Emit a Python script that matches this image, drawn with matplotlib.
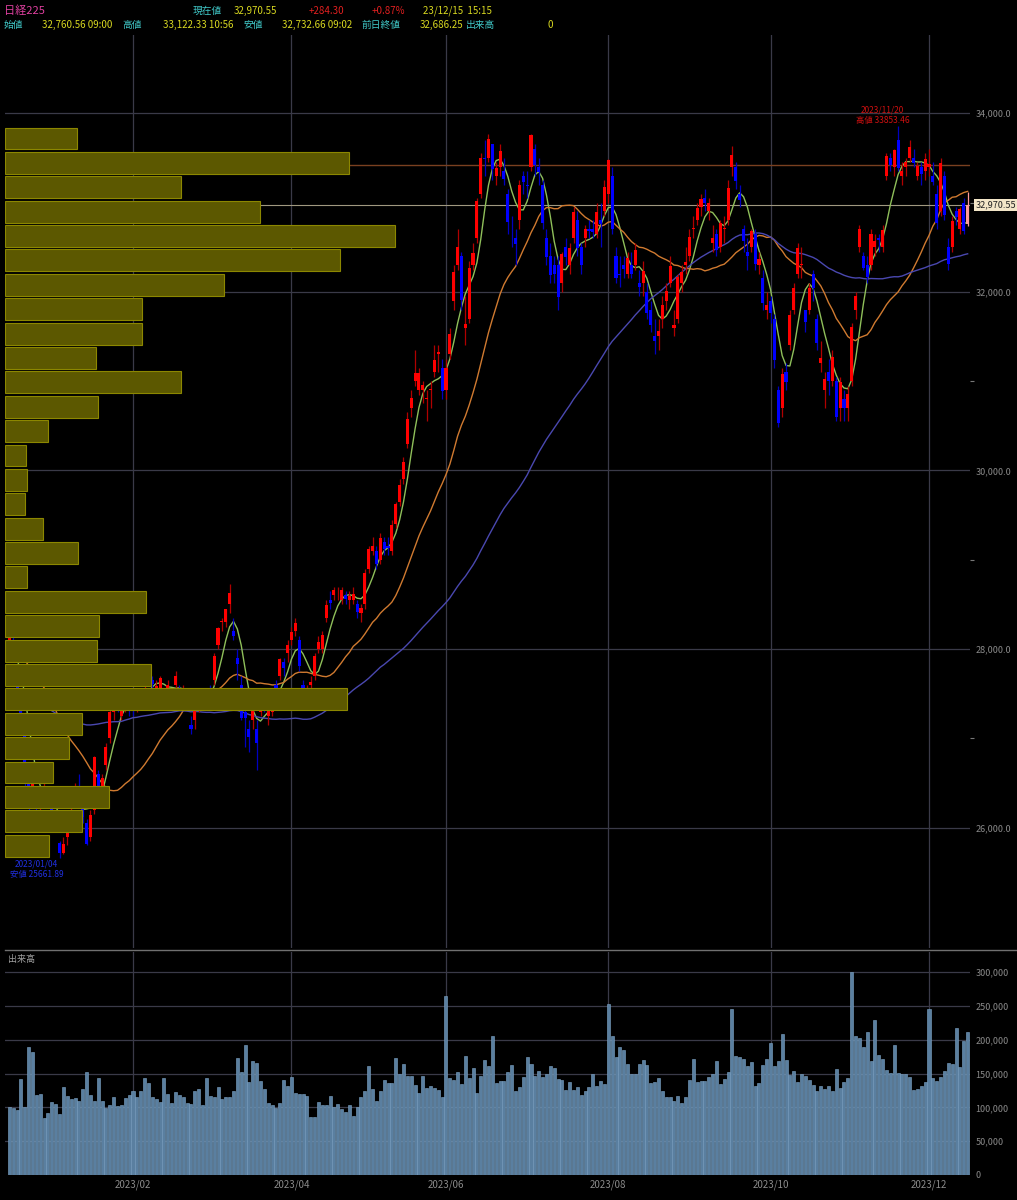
import numpy as np
import pandas as pd
import matplotlib
matplotlib.use("Agg")
import matplotlib.pyplot as plt

plt.rcParams['font.family'] = ['Noto Sans CJK JP', 'DejaVu Sans']

# ---------------- data ----------------
start = "2022-12-14"
end = "2023-12-15"
holidays = ["2023-01-02", "2023-01-03", "2023-01-09", "2023-02-23", "2023-03-21",
            "2023-05-03", "2023-05-04", "2023-05-05", "2023-07-17", "2023-08-11",
            "2023-09-18", "2023-10-09", "2023-11-03", "2023-11-23"]

# closes before the visible range (late Aug - Dec 13 2022), used only to warm up moving averages
history_closes = [28450,28640,28090,28370,28280,28480,28090,28060,28420,28290,28070,27820,27660,
 27880,27570,27310,27150,26430,26570,26170,26420,25940,25930,26220,26990,27120,27310,27116,
 26400,26397,26237,27090,26775,27156,27257,27006,26890,26974,27250,27431,27299,27105,26891,
 27587,27678,27663,27199,27527,27872,27716,27446,28263,27963,27990,28028,27930,27899,27944,
 28115,28383,28283,28162,28027,28226,27777,27820,27885,27686,27574,27965,27901,27842,27954]

opens = [27980,28060,27700,27350,27200,26650,26300,26400,26300,26350,26400,26250,26000,
 25830,25720,25900,26000,26300,26450,26300,26050,25900,26200,26600,26450,26700,27000,27300,27450,27250,27400,27350,
 27350,27400,27450,27600,27700,27650,27550,27500,27400,27550,27450,27600,27550,27500,27500,27150,27200,27400,27450,
 27450,27550,27650,28050,28300,28300,28500,28200,27900,27600,27300,27100,27200,27100,27300,27500,27250,27300,27600,27700,27850,27950,
 28100,28200,28100,27600,27500,27600,27700,28000,28000,28350,28550,28600,28600,28550,28600,28550,28550,28500,28400,28500,
 28900,29100,29100,29000,29200,29150,29100,29400,29650,29900,30300,30700,31000,30900,30900,30800,30900,31100,31300,31150,
 30900,31300,31900,32300,32400,31600,31700,32300,32600,33100,33500,33500,33650,33300,33400,33350,33100,32700,32600,32800,33300,33200,
 33400,33600,33400,33200,32600,32400,32300,32300,32100,32500,32300,32600,32800,32500,32600,32700,32700,32650,32800,32900,
 33100,33300,32400,32200,32300,32200,32300,32300,32100,32100,32000,31800,31500,31500,31700,31900,32100,31600,31700,32100,32300,32400,
 32700,32800,32950,33050,32900,32550,32650,32500,32700,32800,33400,33400,33100,32700,32450,32500,32650,32300,32150,31800,
 31900,31700,30900,30700,31100,31400,31800,32200,32300,31800,31800,32200,31700,31200,30900,31100,31000,31000,30700,30800,30700,
 31000,31800,32500,32400,32300,32300,32500,32600,32500,33300,33500,33400,33700,33300,33400,33500,33500,33300,33400,33350,
 33400,33300,33100,32900,33300,32500,32500,32900,32700,33000,32760.56]
highs = [28200,28150,27750,27400,27250,26700,26600,26450,26450,26500,26450,26300,26150,
 25850,25900,26000,26250,26500,26600,26350,26100,26200,26800,26650,26600,26950,27350,27450,27500,27400,27500,27400,
 27450,27500,27550,27750,27800,27700,27650,27700,27500,27650,27550,27750,27600,27600,27550,27250,27500,27500,27500,
 27550,27600,27950,28250,28350,28450,28730,28350,28000,27700,27400,27200,27400,27200,27500,27550,27450,27550,27650,27900,27900,28100,
 28250,28350,28150,27650,27600,27700,27950,28150,28200,28550,28650,28700,28700,28700,28650,28650,28700,28550,28500,28900,
 29150,29250,29150,29300,29250,29250,29450,29650,29900,30150,30650,30900,31350,31150,31000,30900,31000,31400,31400,31250,
 31250,31600,32300,32700,32450,31950,32350,32550,33050,33550,33700,33770,33650,33450,33650,33500,33150,32850,32700,33250,33350,33350,
 33770,33650,33500,33250,32700,32550,32400,32400,32450,32600,32550,32950,32900,32550,32750,32800,32800,33000,33000,33250,
 33490,33400,32500,32400,32400,32450,32450,32550,32250,32350,32100,31900,31700,31700,31950,32100,32400,31800,32200,32300,32500,32700,
 32850,33000,33100,33150,33050,32750,32700,32800,32850,33250,33630,33450,33200,32750,32600,32700,32700,32450,32250,32000,
 31950,31750,30950,31150,31200,31800,32100,32550,32500,31800,32100,32250,31750,31450,31100,31250,31350,31050,31050,30900,30950,
 31650,32000,32750,32450,32400,32700,32650,32650,32750,33550,33550,33600,33853.46,33450,33500,33700,33600,33450,33450,33550,
 33600,33450,33200,33500,33350,32600,32850,32950,32950,33050,33122.33]
lows = [27900,27950,27450,27150,26400,26150,26250,26200,26200,26300,26300,26050,25950,
 25661.89,25700,25800,25950,26250,26350,26050,25800,25850,26150,26350,26400,26650,26950,27200,27300,27200,27300,27250,
 27250,27300,27400,27550,27600,27550,27500,27450,27350,27450,27400,27550,27450,27450,27400,27050,27100,27300,27350,
 27400,27400,27600,28000,28200,28250,28400,28100,27650,27200,26900,26850,27100,26650,27250,27300,27150,27250,27450,27650,27700,27850,
 28050,28150,27750,27400,27400,27500,27650,27950,27950,28300,28450,28550,28550,28500,28500,28450,28500,28350,28300,28450,
 28850,29050,28900,28950,29050,29050,29050,29350,29600,29850,30250,30600,30950,30850,30750,30550,30700,31050,31100,30800,
 30800,31250,31800,32250,31800,31400,31650,32250,32550,33050,33300,33450,33250,33200,33300,33200,32650,32500,32300,32700,33100,33050,
 33350,33300,33200,32700,32300,32100,32100,31800,32000,32300,32200,32550,32400,32200,32500,32600,32600,32600,32500,32850,
 33000,32650,32100,32050,32150,32150,32150,32250,31950,31950,31700,31550,31300,31350,31600,31800,32050,31500,31650,32000,32200,32350,
 32600,32750,32850,32900,32800,32450,32400,32450,32550,32750,33300,33150,32950,32450,32250,32450,32250,32200,31800,31700,
 31650,31150,30490,30600,30900,31350,31750,32150,32150,31550,31750,31900,31350,31100,30700,30850,30950,30550,30550,30550,30550,
 30950,31700,32450,32250,32100,32250,32400,32450,32450,33250,33350,33300,33350,33200,33300,33450,33400,33250,33200,33250,
 33300,33200,32700,32850,32800,32250,32450,32750,32650,32650,32732.66]
closes = [28156,28051,27527,27237,26568,26387,26507,26235,26405,26447,26340,26093,26094,
 25717,25820,25974,26175,26446,26449,26119,25822,26138,26791,26405,26553,26906,27299,27395,27362,27382,27433,27327,
 27346,27402,27509,27693,27685,27606,27584,27670,27427,27602,27501,27696,27513,27531,27473,27104,27453,27423,27445,
 27516,27498,27927,28237,28309,28444,28623,28143,27832,27222,27229,27010,27333,26945,27466,27419,27385,27476,27518,27883,27782,28041,
 28188,28287,27813,27472,27518,27633,27923,28082,28156,28493,28514,28658,28606,28657,28564,28593,28620,28416,28457,28856,
 29123,29157,28949,29242,29122,29126,29388,29626,29842,30093,30573,30808,31086,31086,30957,30801,30916,31233,31328,30887,
 31148,31524,32217,32506,31913,31641,32265,32434,33018,33502,33485,33706,33370,33388,33575,33264,32781,32698,32538,33193,33234,33189,
 33753,33422,33338,32773,32388,32189,32203,31943,32419,32391,32493,32896,32490,32304,32700,32682,32668,32891,32759,33172,
 33476,32707,32159,32192,32254,32377,32204,32473,32059,32238,31766,31626,31450,31566,31856,32010,32287,31624,32169,32226,32333,32619,
 32710,32939,33036,32991,32991,32606,32467,32776,32706,33168,33533,33242,33023,32571,32402,32678,32315,32371,31872,31857,
 31759,31237,30526,31075,30994,31746,32040,32494,32315,31659,32040,32042,31430,31259,31019,30999,31269,30601,30991,30696,30858,
 31601,31949,32708,32271,32166,32646,32568,32585,32695,33519,33424,33585,33388,33354,33451,33625,33447,33408,33321,33486,
 33431,33231,32775,33445,32858,32307,32791,32843,32926,32686,32970.55]
volumes_k = [100,99,96,142,101,189,182,118,120,85,92,108,105,
 91,130,117,112,114,109,127,152,118,110,144,109,99,103,115,102,103,114,118,
 125,116,124,143,136,116,113,108,143,120,106,123,118,115,106,105,124,127,104,
 144,117,115,130,112,116,115,124,173,152,193,137,168,166,139,128,107,104,99,107,140,131,
 145,121,120,120,117,86,86,108,103,103,117,100,105,98,93,104,87,101,116,125,
 162,127,109,124,140,136,136,173,150,165,147,147,133,122,146,129,131,129,126,115,
 265,143,140,153,134,176,143,158,122,147,170,162,206,136,139,139,152,163,124,130,145,174,
 165,147,154,145,150,161,158,142,140,126,138,126,130,118,125,130,150,132,139,135,
 253,206,174,189,185,164,150,150,165,170,163,136,138,144,125,115,115,110,117,107,115,141,
 171,137,139,139,145,150,169,134,142,152,245,176,175,172,162,167,131,136,163,172,
 195,161,168,209,170,148,154,138,150,146,140,133,124,132,128,132,124,157,129,138,143,
 300,206,203,190,211,168,230,177,172,155,151,193,151,150,150,145,126,128,131,138,
 245,143,139,145,154,166,165,218,160,198,212]

# price-volume profile (30 bins between lowest low and highest high), bottom bin first
profile = [44,77,104,48,64,77,342,146,92,94,141,22,73,38,20,22,21,43,93,176,91,137,137,219,335,390,255,176,344,72]

ref_line_price = 33416
current_price = 32970.55
ma_windows = [5, 25, 75]
month_ticks = ["2023/02", "2023/04", "2023/06", "2023/08", "2023/10", "2023/12"]
price_ticks = [26000, 28000, 30000, 32000, 34000]
vol_ticks = [0, 50000, 100000, 150000, 200000, 250000, 300000]

# ---------------- prep ----------------
dates = pd.bdate_range(start, end)
dates = dates[~dates.isin(pd.to_datetime(holidays))]
n = min(len(dates), len(closes))
dates = dates[:n]
o = np.array(opens[:n], float); h = np.array(highs[:n], float)
l = np.array(lows[:n], float); c = np.array(closes[:n], float)
v = np.array(volumes_k[:n], float) * 1000
x = np.arange(n)

def first_idx(ym):
    y, m = ym.split("/")
    return int(np.argmax((dates.year == int(y)) & (dates.month == int(m))))

month_x = [first_idx(m) for m in month_ticks]
i0, i1 = month_x[0], month_x[-1]
s = (929 - 133) / (i1 - i0)
xl = i0 + (5 - 133) / s
xr = i0 + (970 - 133) / s

W, H = 1017, 1200
fig = plt.figure(figsize=(W / 100, H / 100), dpi=100, facecolor="black")
ax = fig.add_axes([5 / W, 1 - 948 / H, 965 / W, 913 / H], facecolor="black")
axv = fig.add_axes([5 / W, 1 - 1175 / H, 965 / W, 223 / H], facecolor="black")

grid_c = "#3a3a48"
for a in (ax, axv):
    for sp in a.spines.values():
        sp.set_visible(False)
    a.set_xlim(xl, xr)
    for mx in month_x:
        a.axvline(mx, color=grid_c, lw=0.9, zorder=0)
    a.yaxis.tick_right()
    a.tick_params(axis="y", colors="#8a8a8a", labelsize=6.5, length=0, pad=4)

ax.set_ylim(24652, 34876)
ax.set_xticks([])
ax.set_yticks(price_ticks)
ax.set_yticklabels([f"{p:,.1f}" for p in price_ticks])
ax.set_yticks([27000, 29000, 31000, 33000], minor=True)
ax.tick_params(axis="y", which="minor", length=3, color="#777777", width=0.8)
for p in price_ticks:
    ax.axhline(p, color=grid_c, lw=0.9, zorder=0)

# volume profile
axp = ax.twiny()
axp.set_xlim(0, 965)
axp.axis("off")
edges = np.linspace(l.min(), h.max(), len(profile) + 1)
bh = edges[1] - edges[0]
axp.barh(edges[:-1] + bh * 0.05, profile, height=bh * 0.9, align="edge", left=0,
         color="#5c5800", edgecolor="#8c8700", lw=0.8, zorder=1)

ax.axhline(ref_line_price, color="#7a4020", lw=1.0, zorder=2)
ax.axhline(current_price, color="#a09880", lw=0.8, zorder=2)

# moving averages (warmed up with earlier closes)
full = pd.Series(np.concatenate([np.array(history_closes, float), c]))
k = len(history_closes)
ma_cols = ["#8fbf5a", "#d07a30", "#4a48b0"]
for w_, col in zip(ma_windows, ma_cols):
    ma = full.rolling(w_, min_periods=1).mean()
    if w_ == 5:
        ma = ma.rolling(3, center=True, min_periods=1).mean()
    ax.plot(x, ma.values[k:], color=col, lw=1.0, zorder=3)

# candles
up = c >= o
body_w = 0.8
for i in range(n):
    if i == n - 1:
        wc = "#ff9a9a"
    elif up[i]:
        wc = "#b00000"
    else:
        wc = "#0000c0"
    ax.vlines(x[i], l[i], h[i], color=wc, lw=0.9, zorder=4)
body_col = np.where(up, "#ff0000", "#0000ff").astype(object)
body_col[-1] = "#ff9a9a"
ax.bar(x, np.maximum(np.abs(c - o), 10), bottom=np.minimum(o, c), width=body_w,
       color=list(body_col), zorder=5, lw=0)

ax.annotate(f"{current_price:,.2f}", xy=(1.0, current_price), xycoords=("axes fraction", "data"),
            xytext=(4, 0), textcoords="offset points", va="center", ha="left", fontsize=6.5,
            color="#202020", bbox=dict(boxstyle="square,pad=0.2", fc="#f3e6c8", ec="none"),
            annotation_clip=False)

ih = int(np.argmax(h)); il = int(np.argmin(l))
ax.text(ih - 4, h[ih] + 20, f"{dates[ih]:%Y/%m/%d}\n高値 {h[ih]:.2f}", color="#d01010",
        fontsize=6, ha="center", va="bottom", linespacing=1.2)
ax.text(il - 6, l[il] - 20, f"{dates[il]:%Y/%m/%d}\n安値 {l[il]:.2f}", color="#2030e0",
        fontsize=6, ha="center", va="top", linespacing=1.2)

# volume panel
axv.set_ylim(0, 330000)
axv.bar(x, v, width=0.78, color="#5a7fa0", edgecolor="#7fa6c8", lw=0.4, zorder=2)
axv.set_yticks(vol_ticks)
axv.set_yticklabels(["0" if t == 0 else f"{t:,}" for t in vol_ticks])
for t in vol_ticks[1:]:
    axv.axhline(t, color=grid_c, lw=0.9, zorder=0)
axv.set_xticks(month_x)
axv.set_xticklabels(month_ticks)
axv.tick_params(axis="x", colors="#8a8a8a", labelsize=7, length=0, pad=3)
axv.text(0.003, 0.985, "出来高", transform=axv.transAxes, color="#a0a0a0", fontsize=6.5,
         va="top", ha="left")

fig.add_artist(plt.Line2D([5 / W, 1.0], [1 - 950 / H, 1 - 950 / H], color="#707070", lw=1.0))

def ftxt(px, py, s_, col, fs=7):
    fig.text(px / W, 1 - py / H, s_, color=col, fontsize=fs, va="center", ha="left")

cyan = "#40c8c8"; yel = "#d8d820"; red = "#e02020"
ftxt(4, 11, "日経225", "#e040a0", 8)
ftxt(193, 11, "現在値", cyan); ftxt(234, 11, "32,970.55", yel)
ftxt(309, 11, "+284.30", red); ftxt(372, 11, "+0.87%", red); ftxt(423, 11, "23/12/15  15:15", yel)
ftxt(4, 25, "始値", cyan); ftxt(42, 25, "32,760.56 09:00", yel)
ftxt(122, 25, "高値", cyan); ftxt(163, 25, "33,122.33 10:56", yel)
ftxt(243, 25, "安値", cyan); ftxt(282, 25, "32,732.66 09:02", yel)
ftxt(361, 25, "前日終値", cyan); ftxt(420, 25, "32,686.25", yel)
ftxt(466, 25, "出来高", cyan); ftxt(547, 25, "0", yel)

fig.savefig("out.png", dpi=100, facecolor="black")
